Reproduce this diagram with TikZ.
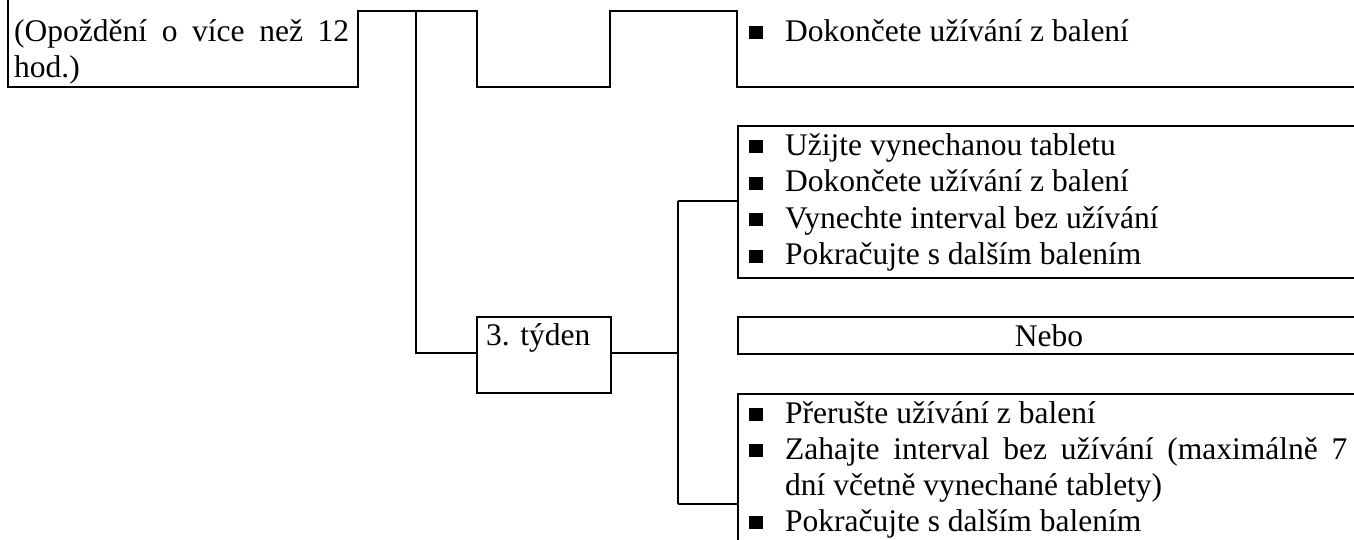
\documentclass[tikz,border=0pt]{standalone}
\usepackage{fontspec}
\setmainfont{Liberation Serif}
\begin{document}
\begin{tikzpicture}[x=1pt,y=-1pt,
  ln/.style={line width=2pt,line join=miter},
  txt/.style={anchor=base west,inner sep=0pt,font=\fontsize{31.5}{36}\selectfont},
  bulletsq/.style={fill=black,draw=none}]
\useasboundingbox (0,0) rectangle (1354,539);
\clip (0,0) rectangle (1354,539);
% named coordinates
\coordinate (b1tl) at (8,-2);
\coordinate (b1bl) at (8,87);
\coordinate (b1br) at (358,87);
\coordinate (b1tr) at (358,11);
\coordinate (c1) at (477,11);
\coordinate (c2) at (477,87);
\coordinate (c3) at (610,87);
\coordinate (c4) at (610,11);
\coordinate (c5) at (737,11);
\coordinate (c6) at (737,87);
\coordinate (c7) at (1360,87);
\coordinate (v1t) at (416,11);
\coordinate (v1b) at (416,353);
\coordinate (v2t) at (678,201);
\coordinate (v2m) at (678,353);
\coordinate (v2b) at (678,504);
% boxes
\node[draw,ln,minimum width=134pt,minimum height=76pt,anchor=north west,inner sep=0pt] (wk3) at (476,316) {};
\node[draw,ln,minimum width=640pt,minimum height=152pt,anchor=north west,inner sep=0pt] (boxA) at (737,125) {};
\node[draw,ln,minimum width=640pt,minimum height=37pt,anchor=north west,inner sep=0pt] (nebo) at (737,316) {};
\node[draw,ln,minimum width=640pt,minimum height=200pt,anchor=north west,inner sep=0pt] (boxB) at (737,393) {};
% lines
\draw[ln] (b1tl) -- (b1bl) -- (b1br) -- (b1tr) -- (c1) -- (c2) -- (c3) -- (c4) -- (c5) -- (c6) -- (c7);
\draw[ln] (v1t) -- (v1b) -- (wk3.west |- v1b);
\draw[ln] (wk3.east |- v2m) -- (v2m);
\draw[ln] (v2t) -- (v2b);
\draw[ln] (v2t) -- (boxA.west |- v2t);
\draw[ln] (v2b) -- (boxB.west |- v2b);
% texts
\node[txt] (t1a) at (14,41) {\hbox to 335pt{(Opoždění\hfill o\hfill více\hfill než\hfill 12}};
\node[txt] (t1b) at (14,77) {hod.)};
\node[txt] (t2) at (785,41) {Dokončete užívání z balení};
\node[txt] (a1) at (785,155) {Užijte vynechanou tabletu};
\node[txt] (a2) at (785,191.5) {Dokončete užívání z balení};
\node[txt] (a3) at (785,228) {Vynechte interval bez užívání};
\node[txt] (a4) at (785,264.5) {Pokračujte s dalším balením};
\node[txt] (w3) at (486,345) {3. týden};
\node[anchor=base,inner sep=0pt,font=\fontsize{31.5}{36}\selectfont] (nb) at (1049,346) {Nebo};
\node[txt] (b1) at (785,423) {Přerušte užívání z balení};
\node[txt] (b2) at (785,459) {\hbox to 562pt{Zahajte\hfill interval\hfill bez\hfill užívání\hfill (maximálně\hfill 7}};
\node[txt] (b3) at (785,495) {dní včetně vynechané tablety)};
\node[txt] (b4) at (785,531) {Pokračujte s dalším balením};
\foreach \yy in {41,155,191.5,228,264.5,423,459,531}
  \fill[bulletsq] (749,\yy-2) rectangle (763,\yy-15);
\end{tikzpicture}
\end{document}
